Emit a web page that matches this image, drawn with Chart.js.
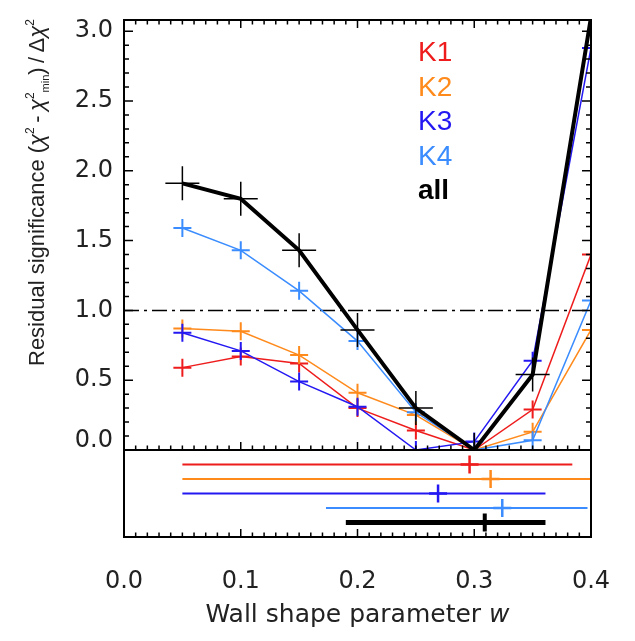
<!DOCTYPE html>
<html>
<head>
<meta charset="utf-8">
<script src="https://cdn.jsdelivr.net/npm/chart.js@4.4.1/dist/chart.umd.min.js"></script>
<style>
html,body{margin:0;padding:0;background:#fff;}
#wrap{width:635px;height:641px;}
</style>
</head>
<body>
<div id="wrap"><canvas id="chisqChart" width="635" height="641"></canvas></div>
<script>
// wall shape parameter grid
const wGrid = [0.05, 0.10, 0.15, 0.20, 0.25, 0.30, 0.35, 0.40];

// residual significance per band
const k1Sig  = [0.59, 0.67, 0.62, 0.30, 0.14, 0.00, 0.29, 1.40];
const k2Sig  = [0.87, 0.85, 0.68, 0.41, 0.25, 0.00, 0.13, 0.86];
const k3Sig  = [0.84, 0.71, 0.49, 0.31, 0.00, 0.06, 0.64, 2.88];
const k4Sig  = [1.59, 1.43, 1.14, 0.78, 0.27, 0.00, 0.07, 1.07];
const allSig = [1.91, 1.80, 1.43, 0.86, 0.30, 0.00, 0.54, 3.10];

const seriesNames  = ['K1', 'K2', 'K3', 'K4', 'all'];
const seriesColors = ['#ee1c1c', '#ff8a1c', '#2418f2', '#3a8cff', '#000000'];
const seriesValues = [k1Sig, k2Sig, k3Sig, k4Sig, allSig];

// best fit w and its range (lower panel)
const bestW = [0.296, 0.314, 0.269, 0.324, 0.309];
const lowW  = [0.050, 0.050, 0.050, 0.173, 0.190];
const highW = [0.384, 0.400, 0.361, 0.397, 0.361];

const sigLevel = 1.0;
const xTickVals = [0.0, 0.1, 0.2, 0.3, 0.4];
const yTickVals = [0.0, 0.5, 1.0, 1.5, 2.0, 2.5, 3.0];

Chart.defaults.font.family = "'DejaVu Sans', sans-serif";
Chart.defaults.color = '#222';

const datasets = [];

seriesNames.forEach((name, i) => {
  const isAll = name === 'all';
  datasets.push({
    label: name,
    data: wGrid.map((w, j) => ({x: w, y: seriesValues[i][j]})),
    yAxisID: 'y',
    borderColor: seriesColors[i],
    borderWidth: isAll ? 4 : 1.5,
    pointStyle: 'cross',
    pointRadius: isAll ? 17 : 9,
    pointBorderWidth: isAll ? 1.5 : 2,
    pointBorderColor: seriesColors[i],
    pointHoverRadius: 0,
    tension: 0,
    fill: false,
    clip: 0,
    order: isAll ? 0 : 5 - i
  });
  // range bar + best value in the lower panel
  datasets.push({
    label: name + ' range',
    data: [{x: lowW[i], y: i + 1}, {x: bestW[i], y: i + 1}, {x: highW[i], y: i + 1}],
    yAxisID: 'y2',
    borderColor: seriesColors[i],
    borderWidth: isAll ? 5 : 2,
    pointStyle: 'cross',
    pointRadius: [0, 9, 0],
    pointBorderWidth: isAll ? 4 : 2.5,
    pointBorderColor: seriesColors[i],
    pointHoverRadius: 0,
    tension: 0,
    clip: 0
  });
});

datasets.push({
  label: 'threshold',
  data: [{x: 0, y: sigLevel}, {x: 0.4, y: sigLevel}],
  yAxisID: 'y',
  borderColor: '#000',
  borderWidth: 1.5,
  borderDash: [15, 5, 3, 5],
  pointRadius: 0,
  clip: 0,
  order: 10
});

const framePlugin = {
  id: 'framePlugin',
  afterDatasetsDraw(chart) {
    const {ctx, scales: {x, y, y2}} = chart;
    ctx.save();
    ctx.strokeStyle = '#000';
    ctx.lineWidth = 2;
    ctx.strokeRect(x.left, y.top, x.right - x.left, y.bottom - y.top);
    ctx.strokeRect(x.left, y2.top, x.right - x.left, y2.bottom - y2.top);

    // tick marks
    ctx.lineWidth = 1.5;
    ctx.beginPath();
    for (let k = 0; k <= 40; k++) {
      const px = x.getPixelForValue(k / 100);
      const len = k % 10 === 0 ? 8 : 4.5;
      ctx.moveTo(px, y.top); ctx.lineTo(px, y.top + len);
      ctx.moveTo(px, y.bottom); ctx.lineTo(px, y.bottom - len);
      ctx.moveTo(px, y2.bottom); ctx.lineTo(px, y2.bottom - len);
    }
    for (let k = 0; k <= 30; k++) {
      const py = y.getPixelForValue(k / 10);
      const len = k % 5 === 0 ? 9 : 5;
      ctx.moveTo(x.left, py); ctx.lineTo(x.left + len, py);
      ctx.moveTo(x.right, py); ctx.lineTo(x.right - len, py);
    }
    ctx.stroke();

    // y tick labels
    ctx.fillStyle = '#222';
    ctx.font = "24px 'DejaVu Sans'";
    ctx.textAlign = 'right';
    ctx.textBaseline = 'middle';
    yTickVals.forEach(v => {
      const py = Math.min(y.getPixelForValue(v), y.bottom - 9);
      ctx.fillText(v.toFixed(1), x.left - 11, py);
    });

    // legend
    ctx.textAlign = 'left';
    ctx.textBaseline = 'alphabetic';
    seriesNames.forEach((name, i) => {
      ctx.fillStyle = seriesColors[i];
      ctx.font = (name === 'all' ? 'bold ' : '') + "28px 'Liberation Sans Narrow', 'Liberation Sans'";
      ctx.fillText(name, x.left + 294, y.top + 41 + i * 34.5);
    });

    // x title
    ctx.fillStyle = '#222';
    ctx.font = "25px 'DejaVu Sans'";
    const t1 = 'Wall shape parameter ';
    const w1 = ctx.measureText(t1).width;
    ctx.font = "italic 25px 'DejaVu Sans'";
    const w2 = ctx.measureText('w').width;
    const cx = (x.left + x.right) / 2;
    let tx = cx - (w1 + w2) / 2;
    ctx.font = "25px 'DejaVu Sans'";
    ctx.fillText(t1, tx, 622);
    ctx.font = "italic 25px 'DejaVu Sans'";
    ctx.fillText('w', tx + w1, 622);

    // y title (rotated, with super/subscripts)
    const parts = [
      ['Residual significance (', 0, 22, ''],
      ['\u03c7', 0, 22, 'italic '],
      ['2', -10, 12, ''],
      ['\u2009-\u2009', 0, 22, ''],
      ['\u03c7', 0, 22, 'italic '],
      ['2', -10, 12, ''],
      ['min', 5, 11, ''],
      [')\u2009/\u2009\u0394', 0, 22, ''],
      ['\u03c7', 0, 22, 'italic '],
      ['2', -10, 12, '']
    ];
    ctx.translate(44, 366);
    ctx.rotate(-Math.PI / 2);
    let off = 0;
    parts.forEach(([s, dy, size, style]) => {
      ctx.font = style + size + "px 'Liberation Sans'";
      ctx.fillText(s, off, dy);
      off += ctx.measureText(s).width;
    });
    ctx.restore();
  }
};

new Chart(document.getElementById('chisqChart'), {
  type: 'line',
  data: {datasets},
  plugins: [framePlugin],
  options: {
    responsive: false,
    devicePixelRatio: 1,
    animation: false,
    events: [],
    layout: {padding: {top: 20, right: 44, left: 0, bottom: 0}},
    plugins: {legend: {display: false}, tooltip: {enabled: false}},
    scales: {
      x: {
        type: 'linear', min: 0, max: 0.4,
        grid: {display: false}, border: {display: false},
        afterBuildTicks: s => { s.ticks = xTickVals.map(v => ({value: v})); },
        ticks: {
          callback: v => v.toFixed(1),
          font: {size: 24}, color: '#222',
          padding: 22, maxRotation: 0, autoSkip: false
        },
        afterFit: s => { s.height = 104; }
      },
      y2: {
        type: 'linear', min: 0, max: 6, reverse: true,
        position: 'left', stack: 'panels', stackWeight: 87,
        ticks: {display: false}, grid: {display: false}, border: {display: false},
        afterFit: s => { s.width = 124; }
      },
      y: {
        type: 'linear', min: 0, max: 3.08,
        position: 'left', stack: 'panels', stackWeight: 430,
        ticks: {display: false}, grid: {display: false}, border: {display: false},
        afterFit: s => { s.width = 124; }
      }
    }
  }
});
</script>
</body>
</html>
